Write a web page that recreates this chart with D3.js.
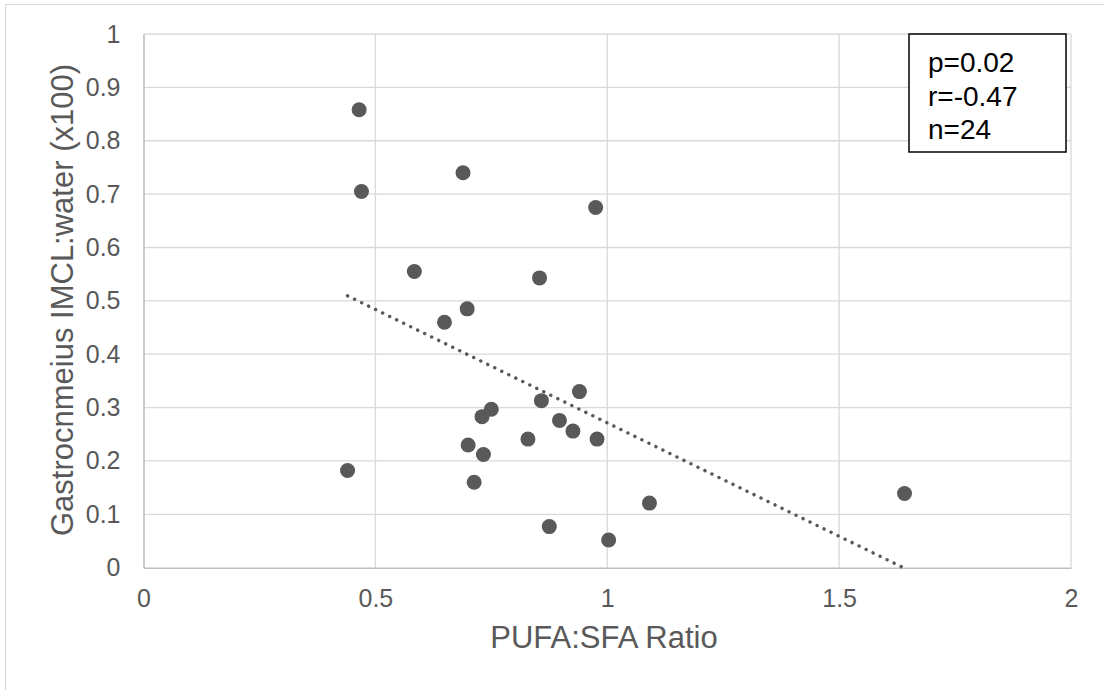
<!DOCTYPE html>
<html>
<head>
<meta charset="utf-8">
<script src="https://cdn.jsdelivr.net/npm/d3@7"></script>
<style>
  html, body { margin: 0; padding: 0; background: #fff; }
  svg { display: block; font-family: "Liberation Sans", Arial, sans-serif; }
</style>
</head>
<body>
<svg id="chart" width="1104" height="690"></svg>
<script>
// PUFA:SFA ratio per subject
const pufaSfa = [0.440, 0.700, 0.730, 0.750, 0.733, 0.713, 0.829, 0.858, 0.940, 0.897,
                 0.926, 0.978, 0.875, 1.003, 1.091, 0.465, 0.470, 0.689, 0.975, 0.584,
                 0.854, 0.698, 0.649, 1.641];
// Gastrocnemius IMCL:water (x100) per subject
const imclWater = [0.182, 0.230, 0.283, 0.297, 0.212, 0.160, 0.241, 0.313, 0.330, 0.276,
                   0.256, 0.241, 0.077, 0.052, 0.121, 0.858, 0.705, 0.740, 0.675, 0.555,
                   0.543, 0.485, 0.460, 0.139];
const xTicks = [0, 0.5, 1, 1.5, 2];
const yTicks = [0, 0.1, 0.2, 0.3, 0.4, 0.5, 0.6, 0.7, 0.8, 0.9, 1];
const statsLines = ["p=0.02", "r=-0.47", "n=24"];

const svg = d3.select("#chart");
const plot = { left: 143.5, right: 1071, top: 34, bottom: 567.7 };

const x = d3.scaleLinear().domain([0, 2]).range([plot.left, plot.right]);
const y = d3.scaleLinear().domain([0, 1]).range([plot.bottom, plot.top]);

// outer chart frame
svg.append("rect")
  .attr("x", 5.5).attr("y", 4.5).attr("width", 1120).attr("height", 700)
  .attr("fill", "none").attr("stroke", "#d9d9d9").attr("stroke-width", 1);

// gridlines
svg.append("g").selectAll("line.h").data(yTicks.slice(1)).join("line")
  .attr("x1", plot.left).attr("x2", plot.right)
  .attr("y1", d => y(d)).attr("y2", d => y(d))
  .attr("stroke", "#d9d9d9").attr("stroke-width", 1.3);
svg.append("g").selectAll("line.v").data(xTicks.slice(1)).join("line")
  .attr("y1", plot.top).attr("y2", plot.bottom)
  .attr("x1", d => x(d)).attr("x2", d => x(d))
  .attr("stroke", "#d9d9d9").attr("stroke-width", 1.3);

// axes
const xAxis = d3.axisBottom(x).tickValues(xTicks).tickSize(0).tickPadding(22)
  .tickFormat(d => String(d));
const gx = svg.append("g").attr("transform", `translate(0,${y(0)})`).call(xAxis);
gx.select(".domain").attr("stroke", "#bfbfbf").attr("stroke-width", 1.6);
gx.selectAll("text").attr("fill", "#595959").style("font-size", "25px")
  .style("font-family", "Liberation Sans, Arial, sans-serif");

const yAxis = d3.axisLeft(y).tickValues(yTicks).tickSize(0).tickPadding(23)
  .tickFormat(d => String(d));
const gy = svg.append("g").attr("transform", `translate(${x(0)},0)`).call(yAxis);
gy.select(".domain").attr("stroke", "#bfbfbf").attr("stroke-width", 1.6);
gy.selectAll("text").attr("fill", "#595959").style("font-size", "25px")
  .style("font-family", "Liberation Sans, Arial, sans-serif");

// linear least-squares trendline across the data range
const n = pufaSfa.length;
const mx = d3.mean(pufaSfa), my = d3.mean(imclWater);
let sxy = 0, sxx = 0;
for (let i = 0; i < n; i++) {
  sxy += (pufaSfa[i] - mx) * (imclWater[i] - my);
  sxx += (pufaSfa[i] - mx) ** 2;
}
const slope = sxy / sxx, intercept = my - slope * mx;
const [xMin, xMax] = d3.extent(pufaSfa);
svg.append("line")
  .attr("x1", x(xMin)).attr("y1", y(intercept + slope * xMin))
  .attr("x2", x(xMax)).attr("y2", y(intercept + slope * xMax))
  .attr("stroke", "#595959").attr("stroke-width", 3.4)
  .attr("stroke-linecap", "round").attr("stroke-dasharray", "0.1 7.7");

// points
svg.append("g").selectAll("circle").data(d3.range(n)).join("circle")
  .attr("cx", i => x(pufaSfa[i])).attr("cy", i => y(imclWater[i]))
  .attr("r", 7.5).attr("fill", "#595959");

// axis titles
svg.append("text").attr("x", 604).attr("y", 648)
  .attr("text-anchor", "middle").attr("fill", "#595959").style("font-size", "31px")
  .text("PUFA:SFA Ratio");
svg.append("text")
  .attr("transform", `translate(73,300) rotate(-90)`)
  .attr("text-anchor", "middle").attr("fill", "#595959").style("font-size", "31px")
  .text("Gastrocnmeius IMCL:water (x100)");

// statistics box
svg.append("rect").attr("x", 909).attr("y", 34).attr("width", 157).attr("height", 118)
  .attr("fill", "#fff").attr("stroke", "#000").attr("stroke-width", 1.5);
svg.append("g").selectAll("text").data(statsLines).join("text")
  .attr("x", 928).attr("y", (d, i) => 72 + i * 33.7)
  .attr("fill", "#000").style("font-size", "28px").text(d => d);
</script>
</body>
</html>
